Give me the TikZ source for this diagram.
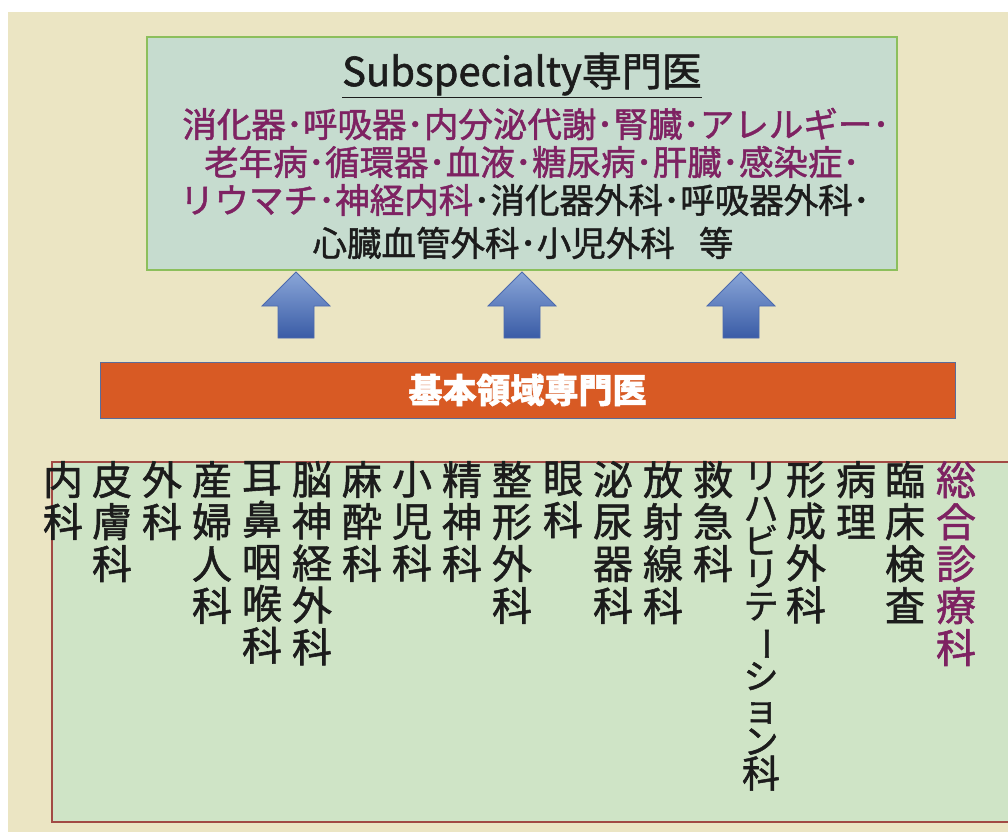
\documentclass[tikz,border=0pt]{standalone}
\usepackage{fontspec}
\setmainfont{Noto Sans CJK JP}[FakeBold=1.4]
\definecolor{bg}{HTML}{EBE5C3}
\definecolor{topfill}{HTML}{C6DCCF}
\definecolor{topedge}{HTML}{8CBF5C}
\definecolor{basefill}{HTML}{CFE4C6}
\definecolor{baseedge}{HTML}{A24A44}
\definecolor{barfill}{HTML}{D85A24}
\definecolor{baredge}{HTML}{5A6C9A}
\definecolor{purp}{HTML}{7E2262}
\definecolor{ink}{HTML}{1C1C1C}
\definecolor{arrtop}{HTML}{8AA6D8}
\definecolor{arrbot}{HTML}{3A5CA6}
\definecolor{arredge}{HTML}{4C6AAE}
\tikzset{
  linetext/.style={font=\fontsize{34.5}{36}\selectfont, inner sep=0pt},
  coltext/.style={font=\fontsize{40}{42}\selectfont, inner sep=0pt, anchor=north, align=center, text=ink},
  uparrow/.style={top color=arrtop, bottom color=arrbot, draw=arredge, line width=0.8pt},
}
\begin{document}
\begin{tikzpicture}[x=1pt,y=-1pt]
\useasboundingbox (0,0) rectangle (1008,832);
\fill[white] (0,0) rectangle (1008,832);
\fill[bg] (8,12) rectangle (1008,832);

% top box
\node[draw=topedge, fill=topfill, line width=1.6pt, minimum width=750pt, minimum height=233pt,
      inner sep=0pt, outer sep=0pt, anchor=north west] (sub) at (147,37) {};
\node[font=\fontsize{40}{42}\selectfont, text=ink, inner sep=0pt] (title) at (522,75) {\underline{Subspecialty専門医}};
\node[linetext, text=purp] (l1) at (536,124) {消化器･呼吸器･内分泌代謝･腎臓･アレルギー･};
\node[linetext, text=purp] (l2) at (532,162) {老年病･循環器･血液･糖尿病･肝臓･感染症･};
\node[linetext, text=ink] (l3) at (525,200) {{\color{purp}リウマチ･神経内科}･消化器外科･呼吸器外科･};
\node[linetext, text=ink] (l4) at (523,243) {心臓血管外科･小児外科\hspace{0.7em}等};

% orange bar
\node[draw=baredge, fill=barfill, line width=1pt, minimum width=855pt, minimum height=56pt,
      inner sep=0pt, outer sep=0pt, text=white, font=\fontsize{34}{36}\selectfont\bfseries] (kihon) at (527.5,390) {基本領域専門医};

% block arrows
\foreach \x [count=\i] in {296,522,741}{
  \coordinate (tip\i) at (\x,272);
  \shade[uparrow] (tip\i) -- ++(34,34) -- ++(-16,0) -- ++(0,32) -- ++(-36,0) -- ++(0,-32) -- ++(-16,0) -- cycle;
}

% bottom box
\node[draw=baseedge, fill=basefill, line width=1.2pt, minimum width=970pt, minimum height=360pt,
      inner sep=0pt, outer sep=0pt, anchor=north west] (base) at (52,462) {};

% columns
\foreach \x/\t [count=\i] in {63/内\\科, 112/皮\\膚\\科, 162/外\\科, 212/産\\婦\\人\\科,
  262/耳\\鼻\\咽\\喉\\科, 312/脳\\神\\経\\外\\科, 362/麻\\酔\\科, 412/小\\児\\科,
  462/精\\神\\科, 512/整\\形\\外\\科, 563/眼\\科, 613/泌\\尿\\器\\科,
  663/放\\射\\線\\科, 713/救\\急\\科, 806/形\\成\\外\\科, 856/病\\理, 905/臨\\床\\検\\査}{
  \node[coltext] (c\i) at (\x,461) {\t};
}
\node[coltext, font=\fontsize{35}{32.5}\selectfont] (reha) at (761,462)
  {リ\\ハ\\ビ\\リ\\テ\\\rotatebox[origin=c]{-90}{ー}\\シ\\ョ\\ン\\{\fontsize{38}{32.5}\selectfont 科}};
\node[coltext, text=purp] (sogo) at (956,461) {総\\合\\診\\療\\科};
\end{tikzpicture}
\end{document}
